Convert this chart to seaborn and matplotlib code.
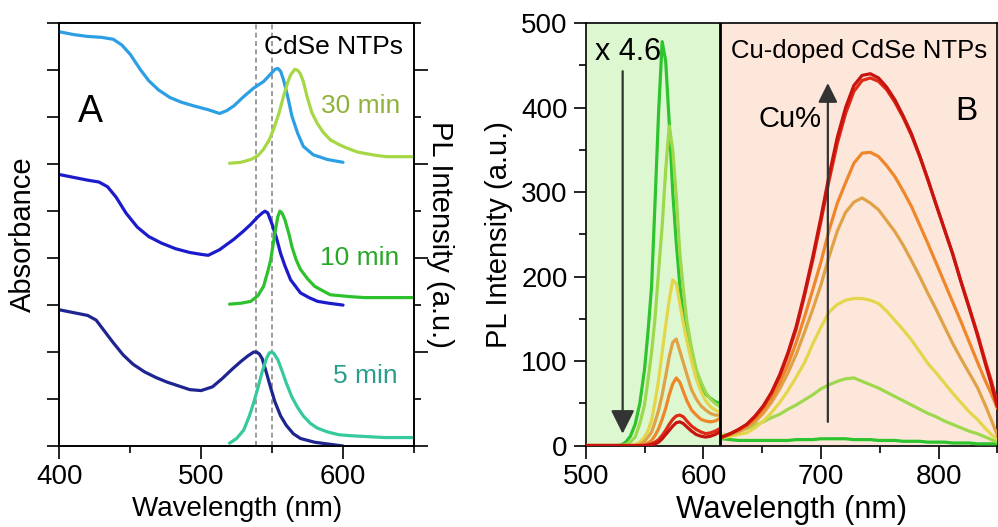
import matplotlib
matplotlib.use("Agg")
import matplotlib.pyplot as plt
import seaborn as sns
from matplotlib.ticker import MultipleLocator

# ---------------- Panel A: CdSe NTPs, absorbance + PL, stacked by growth time
abs30_nm = [400, 410, 420, 430, 438, 444, 450, 457, 463, 470, 478, 486, 495, 505, 513, 518,
            523, 530, 537, 544, 549, 552, 554, 556, 558, 561, 564, 568, 572, 579, 589, 600]
abs30 = [4.41, 4.38, 4.36, 4.35, 4.33, 4.27, 4.17, 4.01, 3.89, 3.79, 3.71, 3.66, 3.62, 3.58, 3.54, 3.57,
         3.62, 3.72, 3.81, 3.88, 3.96, 4.01, 4.02, 3.99, 3.90, 3.72, 3.51, 3.33, 3.19, 3.10, 3.05, 3.02]

pl30_nm = [520, 528, 535, 540, 544, 548, 551, 555, 558, 561, 563, 566, 568, 570, 572, 575,
           578, 582, 586, 591, 597, 603, 610, 617, 625, 631, 640, 650]
pl30 = [3.01, 3.02, 3.05, 3.09, 3.16, 3.26, 3.37, 3.55, 3.72, 3.87, 3.95, 4.01, 4.00, 3.96, 3.88, 3.70,
        3.55, 3.43, 3.34, 3.26, 3.21, 3.17, 3.13, 3.11, 3.09, 3.08, 3.08, 3.08]

abs10_nm = [400, 410, 420, 428, 434, 440, 447, 455, 463, 472, 482, 492, 500, 505, 513, 523,
            530, 535, 540, 543, 545, 547, 550, 553, 556, 559, 563, 570, 576, 582, 590, 600]
abs10 = [2.89, 2.86, 2.83, 2.81, 2.76, 2.65, 2.48, 2.33, 2.23, 2.16, 2.10, 2.06, 2.04, 2.03, 2.09, 2.20,
         2.29, 2.36, 2.44, 2.48, 2.50, 2.48, 2.36, 2.22, 2.05, 1.92, 1.77, 1.63, 1.58, 1.54, 1.52, 1.50]

pl10_nm = [520, 528, 535, 540, 544, 547, 549, 552, 554, 555.5, 557, 559, 562, 564, 567, 570,
           575, 580, 586, 591, 598, 605, 615, 629, 640, 650]
pl10 = [1.51, 1.52, 1.54, 1.60, 1.70, 1.86, 1.98, 2.27, 2.44, 2.50, 2.48, 2.41, 2.25, 2.12, 1.98, 1.88,
        1.78, 1.70, 1.65, 1.61, 1.60, 1.59, 1.58, 1.58, 1.58, 1.58]

abs5_nm = [400, 410, 420, 426, 432, 438, 445, 452, 460, 468, 476, 484, 492, 500, 508, 515, 522,
           528, 533, 537, 539, 541, 543, 546, 549, 552, 556, 560, 565, 570, 580, 590, 600]
abs5 = [1.45, 1.42, 1.39, 1.34, 1.22, 1.10, 0.97, 0.87, 0.79, 0.73, 0.68, 0.64, 0.60, 0.59, 0.63, 0.72, 0.82,
        0.90, 0.96, 1.00, 1.00, 0.98, 0.93, 0.78, 0.62, 0.47, 0.32, 0.22, 0.13, 0.08, 0.04, 0.02, 0.00]

pl5_nm = [520, 525, 530, 534, 537, 540, 543, 546, 548, 549.5, 551, 554, 557, 560, 564, 568,
          572, 577, 582, 589, 597, 605, 617, 629, 640, 650]
pl5 = [0.03, 0.08, 0.17, 0.32, 0.46, 0.62, 0.79, 0.93, 0.99, 1.00, 0.99, 0.92, 0.80, 0.67, 0.52, 0.41,
       0.32, 0.24, 0.19, 0.15, 0.12, 0.11, 0.10, 0.09, 0.09, 0.09]

peak_marks_nm = [538.5, 550.0]

# ---------------- Panel B: PL of Cu-doped CdSe NTPs, green side scaled x 4.6
band_nm = [500, 510, 520, 526, 530, 534, 538, 542, 546, 550, 553, 556, 559, 562, 565, 568,
           571, 574, 577, 580, 583, 586, 590, 594, 598, 602, 606, 610, 614]
band_green = [0, 0, 0, 0, 0.5, 4, 11, 25, 50, 90, 135, 188, 290, 395, 478, 455,
              382, 300, 240, 190, 155, 128, 103, 85, 72, 61, 56, 52, 50]
band_lime = [0, 0, 0, 0, 0, 1, 4, 10, 26, 48, 78, 110, 152, 207, 260, 326,
             378, 350, 295, 228, 185, 147, 115, 90, 75, 63, 55, 50, 46]
band_yellow = [0, 0, 0, 0, 0, 0, 0, 1, 4, 10, 18, 30, 52, 78, 110, 142,
               172, 196, 192, 168, 145, 124, 100, 79, 64, 53, 46, 42, 40]
band_tan = [0, 0, 0, 0, 0, 0, 0, 0, 1, 5, 10, 16, 28, 42, 60, 82,
            105, 122, 126, 112, 98, 84, 66, 55, 47, 42, 38, 36, 36]
band_orange = [0, 0, 0, 0, 0, 0, 0, 0, 0, 1, 3, 6, 12, 20, 31, 44,
               60, 73, 80, 75, 64, 53, 42, 36, 31, 29, 28, 29, 32]
band_red = [0, 0, 0, 0, 0, 0, 0, 0, 0, 0, 1, 2, 4, 7, 12, 18,
            25, 31, 35, 36, 34, 29, 23, 19, 16, 14, 15, 17, 20]
band_darkred = [0, 0, 0, 0, 0, 0, 0, 0, 0, 0, 0, 1, 2, 4, 8, 13,
                18, 23, 27, 28, 26, 22, 17, 13, 11, 10, 11, 13, 16]

cu_nm = [616, 623, 630, 637, 644, 651, 658, 665, 672, 679, 686, 693, 700, 707, 714, 721, 728, 735,
         742, 749, 756, 763, 770, 777, 784, 791, 798, 805, 812, 819, 826, 833, 840, 845, 850]
cu_green = [8, 7, 6, 6, 6, 6, 6, 6, 6, 7, 7, 7, 8, 8, 8, 8, 7, 7,
            7, 6, 6, 6, 5, 5, 5, 4, 4, 4, 3, 3, 3, 2, 2, 2, 2]
cu_lime = [12, 14, 17, 20, 24, 28, 33, 37, 43, 48, 54, 60, 67, 72, 76, 79, 80, 76,
           72, 68, 63, 58, 53, 48, 43, 38, 34, 29, 25, 21, 17, 14, 10, 7, 4]
cu_yellow = [9, 11, 13, 15, 21, 29, 39, 51, 65, 81, 98, 120, 140, 158, 167, 172, 174, 174,
             172, 168, 159, 148, 137, 125, 111, 97, 86, 74, 62, 51, 40, 31, 20, 13, 7]
cu_tan = [10, 13, 16, 21, 28, 38, 51, 67, 86, 108, 134, 161, 190, 224, 254, 276, 288, 293,
          287, 279, 266, 253, 237, 219, 200, 180, 161, 141, 121, 103, 86, 69, 47, 30, 12]
cu_orange = [10, 14, 18, 23, 31, 42, 56, 74, 96, 122, 152, 184, 217, 255, 287, 311, 334, 346,
             347, 342, 331, 318, 301, 283, 261, 239, 216, 193, 170, 147, 123, 99, 76, 61, 44]
cu_red = [10, 14, 19, 25, 34, 46, 62, 82, 108, 138, 177, 219, 265, 314, 358, 393, 419, 432,
          435, 431, 421, 406, 388, 367, 342, 314, 285, 256, 227, 195, 164, 133, 99, 76, 50]
cu_darkred = [10, 14, 19, 25, 35, 47, 63, 84, 110, 141, 180, 223, 270, 320, 365, 400, 426, 438,
              440, 435, 424, 409, 390, 369, 343, 315, 285, 256, 227, 194, 163, 131, 96, 72, 46]

series_colors = ["#2dc42d", "#9ed84c", "#e3d64a", "#e0a246", "#f0862a", "#e02a16", "#c8140f"]
band_series = [band_green, band_lime, band_yellow, band_tan, band_orange, band_red, band_darkred]
cu_series = [cu_green, cu_lime, cu_yellow, cu_tan, cu_orange, cu_red, cu_darkred]

sns.set_theme(style="ticks", rc={
    "axes.edgecolor": "black", "axes.labelcolor": "black", "text.color": "black",
    "xtick.color": "black", "ytick.color": "black", "axes.linewidth": 1.2,
})
plt.rcParams["font.family"] = ["Liberation Sans", "DejaVu Sans"]

fig = plt.figure(figsize=(9.98, 5.27), dpi=100)

# ---------- Panel A
axA = fig.add_axes([0.0594, 0.1537, 0.3554, 0.8021])
for xs in peak_marks_nm:
    axA.axvline(xs, color="#8a8a8a", lw=1.2, ls=(0, (3, 2)), zorder=1)

lw = 2.3
for xs, ys, c in [(abs30_nm, abs30, "#2c9fe4"), (pl30_nm, pl30, "#a6d744"),
                  (abs10_nm, abs10, "#1b1bcc"), (pl10_nm, pl10, "#2ec12e"),
                  (abs5_nm, abs5, "#1e2590"), (pl5_nm, pl5, "#36c99d")]:
    sns.lineplot(x=xs, y=ys, ax=axA, color=c, linewidth=lw, sort=False,
                 estimator=None, legend=False, zorder=3)

axA.set_xlim(400, 650)
axA.set_ylim(0, 4.5)
axA.xaxis.set_major_locator(MultipleLocator(100))
axA.xaxis.set_minor_locator(MultipleLocator(50))
axA.yaxis.set_major_locator(MultipleLocator(0.5))
axA.tick_params(axis="x", which="major", direction="out", length=9, width=1.2, labelsize=20, pad=4)
axA.tick_params(axis="x", which="minor", direction="out", length=5, width=1.2)
axA.tick_params(axis="y", which="major", direction="out", length=9, width=1.2, labelleft=False)
axA.set_xlabel("Wavelength (nm)", fontsize=20, labelpad=4)
axA.set_ylabel("Absorbance", fontsize=21, labelpad=7)

axA2 = axA.twinx()
axA2.set_ylim(0, 4.5)
axA2.yaxis.set_major_locator(MultipleLocator(1))
axA2.yaxis.set_minor_locator(MultipleLocator(0.5))
axA2.tick_params(axis="y", which="major", direction="out", length=10, width=1.2, labelright=False)
axA2.tick_params(axis="y", which="minor", direction="out", length=5, width=1.2)
axA2.set_ylabel("PL Intensity (a.u.)", fontsize=21, rotation=270, va="bottom", labelpad=-1)

axA.text(422.2, 3.45, "A", fontsize=27, ha="center", va="baseline")
axA.text(593.2, 4.17, "CdSe NTPs", fontsize=19, ha="center", va="baseline")
axA.text(612.2, 3.54, "30 min", fontsize=19, ha="center", va="baseline", color="#8fb23c")
axA.text(611.9, 1.93, "10 min", fontsize=19, ha="center", va="baseline", color="#28a828")
axA.text(615.7, 0.67, "5 min", fontsize=19, ha="center", va="baseline", color="#2a9e8c")

# ---------- Panel B
axB = fig.add_axes([0.5869, 0.1546, 0.4124, 0.8017])
split_nm = 614.5
axB.axvspan(500, split_nm, color="#ddf7d0", lw=0, zorder=0)
axB.axvspan(split_nm, 850, color="#fde7db", lw=0, zorder=0)
axB.axvline(split_nm, color="black", lw=2.0, zorder=4)

for ys, c in zip(band_series, series_colors):
    sns.lineplot(x=band_nm, y=ys, ax=axB, color=c, linewidth=lw, sort=False,
                 estimator=None, legend=False, zorder=3)
for ys, c in zip(cu_series, series_colors):
    sns.lineplot(x=cu_nm, y=ys, ax=axB, color=c, linewidth=lw, sort=False,
                 estimator=None, legend=False, zorder=3)

axB.set_xlim(500, 850)
axB.set_ylim(0, 500)
axB.xaxis.set_major_locator(MultipleLocator(100))
axB.xaxis.set_minor_locator(MultipleLocator(50))
axB.yaxis.set_major_locator(MultipleLocator(100))
axB.yaxis.set_minor_locator(MultipleLocator(50))
axB.tick_params(axis="both", which="major", direction="out", length=9, width=1.2, labelsize=20, pad=4)
axB.tick_params(axis="both", which="minor", direction="out", length=5, width=1.2)
axB.set_xlabel("Wavelength (nm)", fontsize=22, labelpad=4)
axB.set_ylabel("PL Intensity (a.u.)", fontsize=21, labelpad=6)

arrow_style = dict(color="#333333", lw=1.6, shrinkA=0, shrinkB=0,
                   arrowstyle="-|>,head_length=0.9,head_width=0.45", mutation_scale=16)
axB.annotate("", xy=(531.4, 14), xytext=(531.4, 443), arrowprops=arrow_style, zorder=5)
axB.annotate("", xy=(705.9, 429), xytext=(705.9, 28),
             arrowprops=dict(arrow_style, mutation_scale=13), zorder=5)

axB.text(536.2, 456, "x 4.6", fontsize=22, ha="center", va="baseline", zorder=6)
axB.text(732.5, 459, "Cu-doped CdSe NTPs", fontsize=18.5, ha="center", va="baseline", zorder=6)
axB.text(673.6, 377, "Cu%", fontsize=21, ha="center", va="baseline", zorder=6)
axB.text(823.7, 385, "B", fontsize=24, ha="center", va="baseline", zorder=6)

fig.savefig("out.png", dpi=100)
